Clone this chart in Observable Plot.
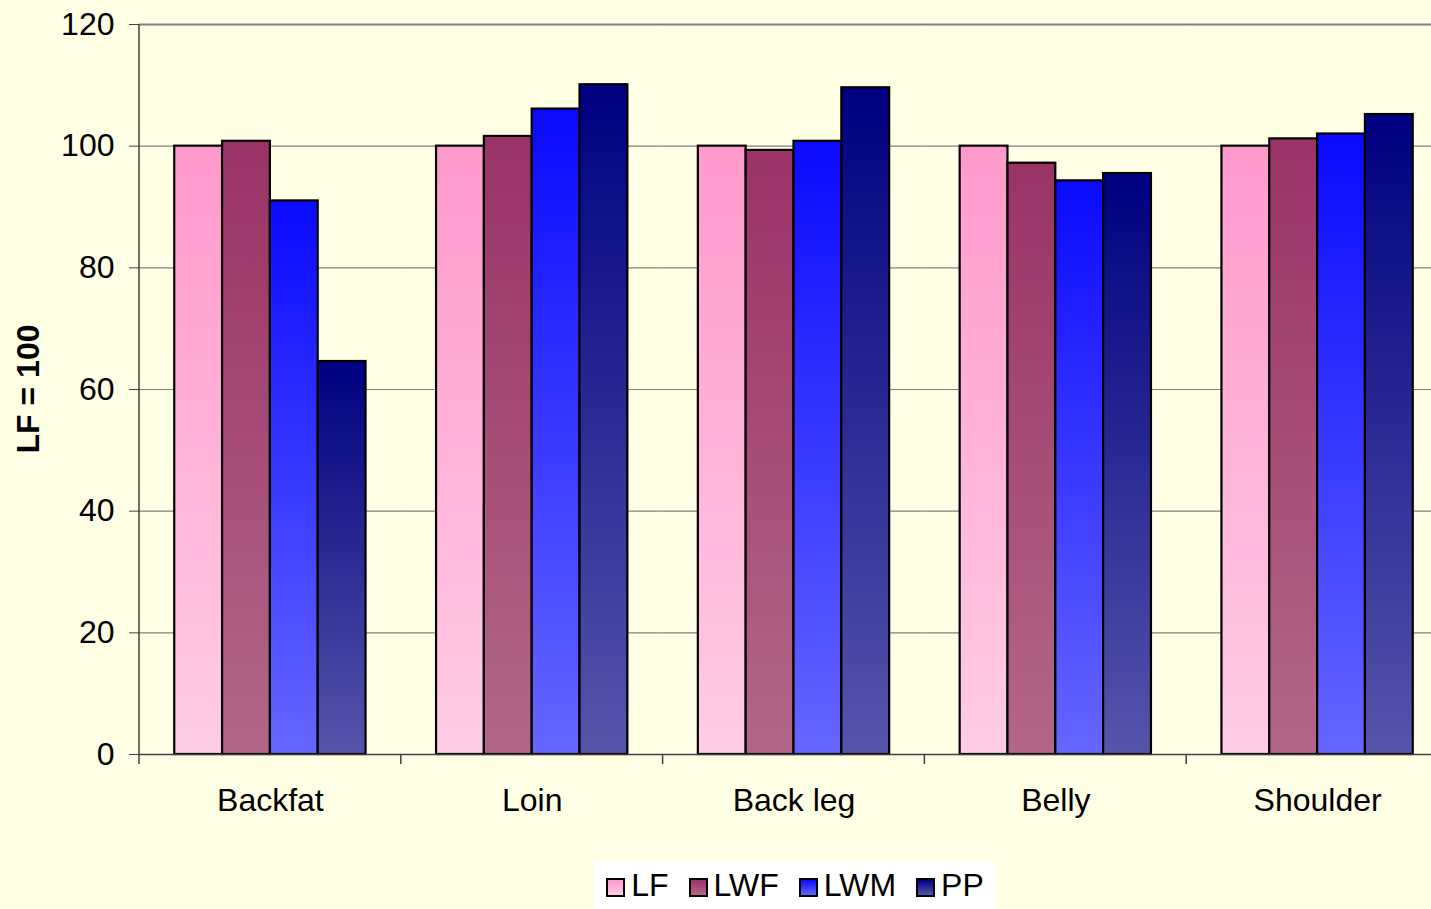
<!DOCTYPE html>
<html>
<head>
<meta charset="utf-8">
<script src="https://cdn.jsdelivr.net/npm/d3@7"></script>
<script src="https://cdn.jsdelivr.net/npm/@observablehq/plot@0.6"></script>
<style>
  html, body { margin: 0; padding: 0; background: #FFFFE5; overflow: hidden; }
  #wrap { position: relative; width: 1431px; height: 909px; overflow: hidden;
          font-family: "Liberation Sans", Arial, sans-serif; }
  #chart { position: absolute; left: 0; top: 0; width: 1449px; }
  #chart svg { max-width: none !important; }
  #legend { position: absolute; left: 594px; top: 861px; width: 402px; height: 48px;
            background: #fff; display: flex; align-items: center; justify-content: center;
            font-size: 32px; color: #000; }
  .item { display: flex; align-items: center; margin: 0 10px; }
  .sw { width: 15px; height: 15px; border: 2px solid #000; margin-right: 6px; margin-top: 5px; }
</style>
</head>
<body>
<div id="wrap">
  <div id="chart"></div>
  <div id="legend"></div>
</div>
<script>
// Cut indices relative to the LF line (LF = 100)
const categories = ["Backfat", "Loin", "Back leg", "Belly", "Shoulder"];
const series = ["LF", "LWF", "LWM", "PP"];
const valuesLF  = [100, 100, 100, 100, 100];
const valuesLWF = [100.8, 101.6, 99.3, 97.2, 101.2];
const valuesLWM = [91.0, 106.1, 100.8, 94.3, 102.0];
const valuesPP  = [64.6, 110.1, 109.6, 95.5, 105.2];
const yTicks = [0, 20, 40, 60, 80, 100, 120];
const yLabel = "LF = 100";

// Vertical gradient per series: [top colour, bottom colour]
const gradients = {
  LF:  ["#FF99CC", "#FFCCE6"],
  LWF: ["#993366", "#B36689"],
  LWM: ["#0A0AFF", "#6666FF"],
  PP:  ["#000080", "#5555AA"]
};

const bySeries = {LF: valuesLF, LWF: valuesLWF, LWM: valuesLWM, PP: valuesPP};
const rows = [];
categories.forEach((c, i) => series.forEach(s => rows.push({category: c, series: s, value: bySeries[s][i]})));

const font = '"Liberation Sans", Arial, sans-serif';

const chart = Plot.plot({
  width: 1449,
  height: 850,
  marginLeft: 139,
  marginRight: 1,
  marginTop: 24,
  marginBottom: 96,
  style: {background: "transparent", fontFamily: font, color: "#000", overflow: "visible", maxWidth: "none"},
  fx: {domain: categories, padding: 0, round: false, label: null},
  x: {domain: series, paddingInner: 0, paddingOuter: 0.737, align: 0.5, round: false, axis: null},
  y: {domain: [0, 120], label: null},
  color: {type: "ordinal", domain: series, range: series.map(s => `url(#grad-${s})`)},
  marks: [
    Plot.gridY({ticks: yTicks, stroke: "#808080", strokeOpacity: 1, strokeWidth: 1.2}),
    Plot.ruleY([120], {stroke: "#808080", strokeWidth: 2}),
    Plot.barY(rows, {fx: "category", x: "series", y: "value", fill: "series",
                     stroke: "#000", strokeWidth: 2.2}),
    Plot.ruleY([0], {stroke: "#404040", strokeWidth: 1.5}),
    Plot.axisY({ticks: yTicks, tickSize: 10, tickPadding: 15, fontSize: 32,
                stroke: "#404040", label: null}),
    Plot.axisFx({anchor: "bottom", tickSize: 0, tickPadding: 34, fontSize: 32, label: null})
  ]
});
document.getElementById("chart").appendChild(chart);

// Gradient definitions, axis line, category separators and the y label
const svg = d3.select(chart);
const defs = svg.insert("defs", ":first-child");
for (const s of series) {
  const g = defs.append("linearGradient").attr("id", `grad-${s}`)
    .attr("x1", 0).attr("y1", 0).attr("x2", 0).attr("y2", 1);
  g.append("stop").attr("offset", "0%").attr("stop-color", gradients[s][0]);
  g.append("stop").attr("offset", "100%").attr("stop-color", gradients[s][1]);
}

const y = chart.scale("y");
const fx = chart.scale("fx");
const y0 = y.apply(0), y1 = y.apply(120);
const left = fx.apply(categories[0]);
svg.append("line").attr("x1", left).attr("x2", left).attr("y1", y0 + 1).attr("y2", y1)
  .attr("stroke", "#404040").attr("stroke-width", 1.5);

const bounds = categories.map(c => fx.apply(c));
bounds.push(fx.apply(categories[categories.length - 1]) + fx.bandwidth);
svg.append("g").selectAll("line").data(bounds).join("line")
  .attr("x1", d => d).attr("x2", d => d).attr("y1", y0).attr("y2", y0 + 10)
  .attr("stroke", "#404040").attr("stroke-width", 1.5);

svg.append("text")
  .attr("transform", `translate(28,${(y0 + y1) / 2}) rotate(-90)`)
  .attr("text-anchor", "middle").attr("dominant-baseline", "central")
  .attr("font-family", font).attr("font-size", 32).attr("font-weight", "bold")
  .attr("fill", "#000").text(yLabel);

// Legend
const legend = d3.select("#legend");
for (const s of series) {
  const item = legend.append("div").attr("class", "item");
  item.append("div").attr("class", "sw")
    .style("background", `linear-gradient(to bottom, ${gradients[s][0]}, ${gradients[s][1]})`);
  item.append("span").text(s);
}
</script>
</body>
</html>
